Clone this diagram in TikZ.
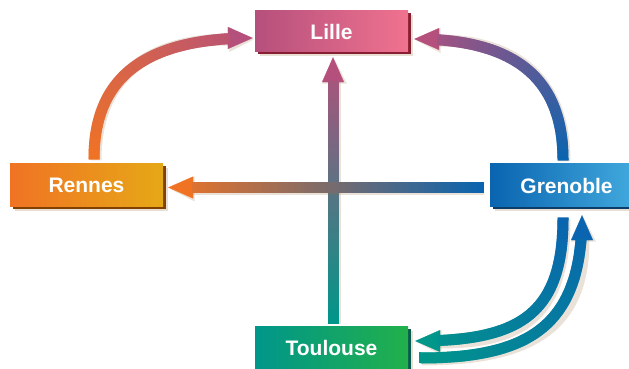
\documentclass[tikz,border=0pt]{standalone}
\usepackage{fontspec}
\setmainfont{Liberation Sans}
\usetikzlibrary{arrows.meta,decorations.markings}

\definecolor{lillel}{RGB}{181,80,124}
\definecolor{liller}{RGB}{240,114,143}
\definecolor{lilled}{RGB}{135,30,50}
\definecolor{rennesl}{RGB}{240,115,36}
\definecolor{rennesr}{RGB}{230,168,23}
\definecolor{rennesd}{RGB}{130,65,0}
\definecolor{grenl}{RGB}{10,100,176}
\definecolor{grenr}{RGB}{69,174,224}
\definecolor{grend}{RGB}{12,60,106}
\definecolor{toul}{RGB}{0,150,138}
\definecolor{tour}{RGB}{34,176,75}
\definecolor{toud}{RGB}{10,90,80}
\definecolor{shadowc}{RGB}{150,110,60}

\tikzset{
  city/.style n args={3}{minimum width=153pt, minimum height=42pt, inner sep=0pt,
    left color=#1, right color=#2, text=white,
    font=\bfseries\fontsize{21}{24}\selectfont,
    preaction={fill=shadowc, fill opacity=.22, transform canvas={shift={(4.5pt,-4pt)}}},
    preaction={fill=#3, transform canvas={shift={(2.5pt,-2pt)}}}},
  flow/.style 2 args={draw=none,
    preaction={draw=shadowc, opacity=.2, line width=12pt,
      -{Triangle[width=23pt,length=25pt]}, transform canvas={shift={(1.5pt,-1.5pt)}}},
    postaction={draw=#2, line width=0.2pt, -{Triangle[width=22pt,length=25pt]}},
    postaction={decorate, decoration={markings,
      mark=between positions 0 and -24pt step 1pt with {%
        \pgfmathtruncatemacro\pc{\pgfkeysvalueof{/pgf/decoration/mark info/distance from start}/\pgfdecoratedpathlength*100}%
        \fill[#2!\pc!#1] (-0.8pt,-5.5pt) rectangle (0.8pt,5.5pt);}}}}
}

\begin{document}
\begin{tikzpicture}[x=1pt,y=1pt]
\useasboundingbox (0,0) rectangle (629,369);

\node[city={lillel}{liller}{lilled}, minimum height=41pt] (lil) at (331.5,337.5) {Lille};
\node[city={rennesl}{rennesr}{rennesd}, minimum height=43pt] (ren) at (86.5,183.5) {Rennes};
\node[city={grenl}{grenr}{grend}, minimum height=43pt] (gre) at (566.5,183.5) {Grenoble};
\node[city={toul}{tour}{toud}] (tou) at (331.5,21) {Toulouse};

% cross
\path[flow={toul}{lillel}] ([shift={(1.5,4)}]tou.north) -- ([shift={(1.5,-5)}]lil.south);
\path[flow={grenl}{rennesl}] ([shift={(-7,-2)}]gre.west) -- ([shift={(5,-2)}]ren.east);

% top arcs
\path[flow={rennesl}{lillel}] ([shift={(7.5,5)}]ren.north)
  .. controls +(0,80) and +(-110,0) .. ([shift={(-2,-6.5)}]lil.west);
\path[flow={grenl}{lillel}] ([shift={(-3.5,4)}]gre.north)
  .. controls +(0,90) and +(90,0) .. ([shift={(6,-7.5)}]lil.east);

% bottom arcs
\path[flow={grenl}{toul}] ([shift={(-3.5,-11)}]gre.south)
  .. controls +(0,-100) and +(100,0) .. ([shift={(7,7)}]tou.east);
\path[flow={toul}{grenl}] ([shift={(12,-10)}]tou.east)
  .. controls +(110,0) and +(0,-110) .. ([shift={(15.5,-8)}]gre.south);
\end{tikzpicture}
\end{document}
